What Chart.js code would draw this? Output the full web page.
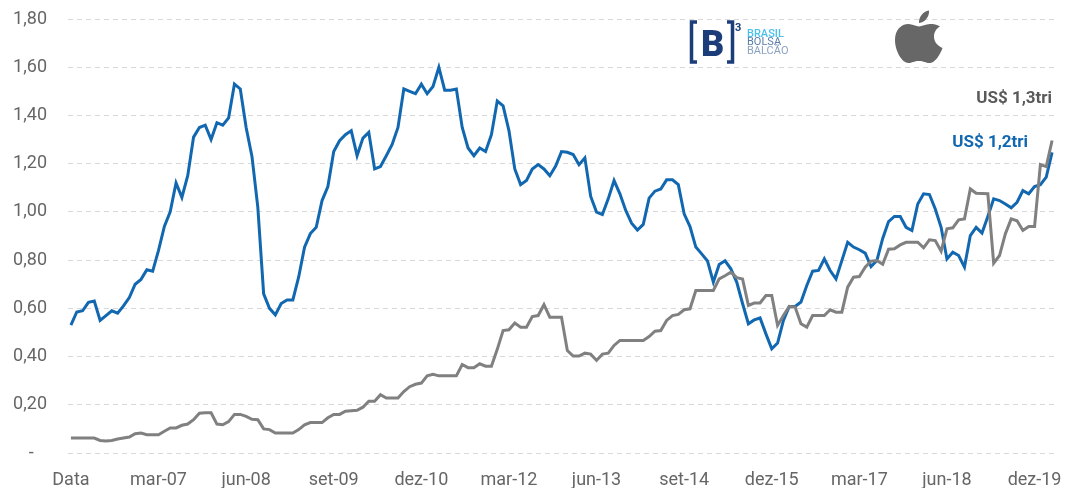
<!DOCTYPE html>
<html>
<head>
<meta charset="utf-8">
<script src="https://cdn.jsdelivr.net/npm/chart.js@4.4.1/dist/chart.umd.min.js"></script>
<style>
  html, body { margin: 0; padding: 0; background: #ffffff; }
  #wrap { position: relative; width: 1072px; height: 488px; overflow: hidden; }
  #c { position: absolute; left: 0; top: 0; }
  #logos { position: absolute; left: 0; top: 0; pointer-events: none; }
</style>
</head>
<body>
<div id="wrap">
  <canvas id="c" width="1072" height="488"></canvas>
  <svg id="logos" width="1072" height="488" xmlns="http://www.w3.org/2000/svg">
    <!-- B3 logo -->
    <g fill="none" stroke="#1b3d7a" stroke-width="3.5">
      <polyline points="697,22 691.5,22 691.5,62 697,62"/>
      <polyline points="727,22 732.5,22 732.5,62 727,62"/>
    </g>
    <text x="712.5" y="55.5" text-anchor="middle" font-family="Roboto" font-weight="900" font-size="36" fill="#1b3d7a">B</text>
    <text x="735" y="30.5" font-family="Roboto" font-weight="700" font-size="11" fill="#1b3d7a">3</text>
    <text x="747" y="36.5" font-family="Roboto" font-weight="500" font-size="11" fill="#4cc0ec">BRASIL</text>
    <text x="747" y="45" font-family="Roboto" font-weight="400" font-size="11" fill="#5a7ea8">BOLSA</text>
    <text x="747" y="53.5" font-family="Roboto" font-weight="400" font-size="11" fill="#8aa2c2">BALCÃO</text>
    <!-- Apple logo -->
    <g transform="translate(895,10)" fill="#676767">
      <path d="M24,16.5 C21,16.5 17.5,14 13.5,14 C6,14 0,20 0,30 C0,41 7,53 13.5,53 C17,53 19,51 24,51 C29,51 30.5,53 34.5,53 C40,53 45,45 47.5,38 C42,35.5 39,31.5 39,26.5 C39,22 41.5,18.5 45,16.5 C42,14.5 38.5,14 35,14 C30.5,14 27,16.5 24,16.5 Z"/>
      <path d="M24,13 C23.5,7 28,1.5 34,0.5 C34.5,6.5 30,12.5 24,13 Z"/>
    </g>
  </svg>
</div>
<script>
// ---- Data ----
const monthNames = ['jan','fev','mar','abr','mai','jun','jul','ago','set','out','nov','dez'];
const categories = ['Data'];
for (let y = 6; y <= 19; y++) {
  for (let m = 0; m < 12; m++) {
    categories.push(monthNames[m] + '-' + String(y).padStart(2, '0'));
  }
}

const tickLabels = ['Data','mar-07','jun-08','set-09','dez-10','mar-12','jun-13','set-14','dez-15','mar-17','jun-18','dez-19'];
const tickIndexes = [0,15,30,45,60,75,90,105,120,135,150,165];

const b3Values = [
  0.53, 0.585, 0.59, 0.625, 0.63, 0.55, 0.57, 0.59, 0.58, 0.61,
  0.645, 0.70, 0.72, 0.76, 0.754, 0.84, 0.94, 1.00, 1.12, 1.06,
  1.15, 1.31, 1.35, 1.36, 1.30, 1.37, 1.36, 1.39, 1.53, 1.51,
  1.35, 1.23, 1.02, 0.66, 0.60, 0.573, 0.62, 0.635, 0.635, 0.73,
  0.854, 0.91, 0.936, 1.047, 1.105, 1.25, 1.295, 1.32, 1.337, 1.233,
  1.306, 1.33, 1.178, 1.188, 1.233, 1.28, 1.35, 1.51, 1.50, 1.49,
  1.53, 1.49, 1.52, 1.60, 1.505, 1.505, 1.51, 1.35, 1.265, 1.233,
  1.265, 1.25, 1.32, 1.46, 1.44, 1.337, 1.178, 1.113, 1.13, 1.178,
  1.196, 1.178, 1.15, 1.19, 1.25, 1.247, 1.238, 1.196, 1.224, 1.064,
  0.999, 0.989, 1.054, 1.13, 1.075, 1.006, 0.953, 0.925, 0.948, 1.057,
  1.086, 1.095, 1.133, 1.133, 1.113, 0.992, 0.939, 0.854, 0.826, 0.796,
  0.709, 0.782, 0.797, 0.764, 0.709, 0.62, 0.536, 0.552, 0.56, 0.494,
  0.432, 0.456, 0.55, 0.608, 0.608, 0.626, 0.695, 0.754, 0.757, 0.805,
  0.757, 0.722, 0.798, 0.874, 0.854, 0.843, 0.829, 0.773, 0.798, 0.89,
  0.96, 0.981, 0.981, 0.936, 0.923, 1.033, 1.075, 1.072, 1.012, 0.936,
  0.805, 0.833, 0.819, 0.771, 0.902, 0.936, 0.912, 0.981, 1.054, 1.047,
  1.033, 1.017, 1.04, 1.088, 1.075, 1.105, 1.113, 1.144, 1.247
];

const appleValues = [
  0.062, 0.062, 0.062, 0.062, 0.062, 0.052, 0.05, 0.052, 0.058, 0.062,
  0.066, 0.08, 0.083, 0.076, 0.076, 0.076, 0.09, 0.104, 0.104, 0.115,
  0.12, 0.138, 0.165, 0.167, 0.167, 0.12, 0.117, 0.13, 0.16, 0.16,
  0.152, 0.14, 0.138, 0.10, 0.097, 0.083, 0.083, 0.083, 0.083, 0.097,
  0.117, 0.126, 0.126, 0.126, 0.146, 0.16, 0.16, 0.173, 0.175, 0.177,
  0.19, 0.215, 0.215, 0.242, 0.228, 0.228, 0.228, 0.255, 0.275, 0.285,
  0.29, 0.32, 0.326, 0.32, 0.32, 0.32, 0.32, 0.367, 0.354, 0.354,
  0.37, 0.36, 0.36, 0.43, 0.508, 0.511, 0.539, 0.522, 0.522, 0.566,
  0.57, 0.615, 0.563, 0.563, 0.563, 0.425, 0.402, 0.402, 0.414, 0.41,
  0.384, 0.41, 0.414, 0.446, 0.467, 0.467, 0.467, 0.467, 0.467, 0.483,
  0.505, 0.508, 0.55, 0.57, 0.575, 0.594, 0.598, 0.674, 0.674, 0.674,
  0.674, 0.722, 0.735, 0.75, 0.727, 0.722, 0.612, 0.622, 0.622, 0.653,
  0.653, 0.529, 0.57, 0.608, 0.605, 0.536, 0.522, 0.57, 0.57, 0.57,
  0.594, 0.584, 0.584, 0.688, 0.729, 0.732, 0.771, 0.796, 0.798, 0.783,
  0.845, 0.847, 0.863, 0.874, 0.874, 0.874, 0.851, 0.884, 0.881, 0.837,
  0.93, 0.934, 0.967, 0.971, 1.095, 1.077, 1.076, 1.075, 0.787, 0.819,
  0.909, 0.971, 0.963, 0.923, 0.939, 0.939, 1.196, 1.188, 1.296
];

const annotations = [
  { text: 'US$ 1,3tri', color: '#595959', dx: 0, dy: 103 },
  { text: 'US$ 1,2tri', color: '#1268b0', dx: -24, dy: 147 }
];

// ---- Chart ----
Chart.defaults.font.family = 'Roboto, "Noto Sans", sans-serif';

const annotationPlugin = {
  id: 'endLabels',
  afterDatasetsDraw(chart) {
    const ctx = chart.ctx;
    const xs = chart.scales.x;
    const xEnd = xs.getPixelForValue(categories.length - 1);
    ctx.save();
    ctx.font = 'bold 17px Roboto';
    ctx.textAlign = 'right';
    ctx.textBaseline = 'alphabetic';
    annotations.forEach(a => {
      ctx.fillStyle = a.color;
      ctx.fillText(a.text, xEnd + a.dx, a.dy);
    });
    ctx.restore();
  }
};

new Chart(document.getElementById('c'), {
  type: 'line',
  data: {
    labels: categories,
    datasets: [
      {
        label: 'Apple',
        data: appleValues,
        borderColor: '#808080',
        borderWidth: 3,
        pointRadius: 0,
        tension: 0,
        fill: false
      },
      {
        label: 'B3',
        data: b3Values,
        borderColor: '#1268b0',
        borderWidth: 3,
        pointRadius: 0,
        tension: 0,
        fill: false
      }
    ]
  },
  options: {
    responsive: false,
    animation: false,
    layout: { padding: { left: 12, right: 17, top: 19, bottom: 0 } },
    plugins: {
      legend: { display: false },
      tooltip: { enabled: false }
    },
    scales: {
      x: {
        offset: true,
        grid: { display: false, drawTicks: false },
        border: { display: false },
        afterFit: function (axis) {
          axis.height = 35;
          axis.paddingLeft = 0;
          axis.paddingRight = 0;
        },
        ticks: {
          autoSkip: false,
          maxRotation: 0,
          minRotation: 0,
          padding: 17,
          color: '#666666',
          font: { size: 18 },
          callback: function (value, index) {
            const k = tickIndexes.indexOf(index);
            return k >= 0 ? tickLabels[k] : null;
          }
        }
      },
      y: {
        min: 0,
        max: 1.8,
        grid: { color: '#d9d9d9', lineWidth: 1, drawTicks: false },
        border: { display: false, dash: [5, 4] },
        afterFit: function (axis) {
          axis.width = 56;
          axis.paddingTop = 0;
          axis.paddingBottom = 0;
        },
        ticks: {
          stepSize: 0.2,
          padding: 21,
          color: '#666666',
          font: { size: 18 },
          callback: function (v) {
            if (Math.abs(v) < 1e-9) return '-   ';
            return v.toFixed(2).replace('.', ',');
          }
        }
      }
    }
  },
  plugins: [annotationPlugin]
});
</script>
</body>
</html>
